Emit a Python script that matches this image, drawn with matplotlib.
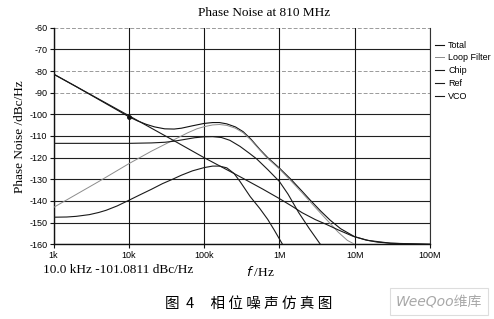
import matplotlib
matplotlib.use("Agg")
import matplotlib.pyplot as plt
from matplotlib.patches import FancyBboxPatch

plt.rcParams['axes.unicode_minus'] = False

# ---- data ----
total_f = [1e3, 1.5e3, 2e3, 3e3, 5e3, 7e3, 1e4, 1.3e4, 1.7e4, 2.2e4, 3e4, 4e4,
           5e4, 7e4, 1e5, 1.3e5, 1.6e5, 2e5, 2.6e5, 3.3e5, 4.2e5, 5.5e5, 7e5,
           1e6, 1.45e6, 2e6, 2.55e6, 3.5e6, 4.7e6, 6.5e6, 1e7, 1.4e7, 2e7,
           3e7, 5e7, 1e8]
total_db = [-81.4, -84.8, -87.2, -90.7, -95.1, -98.0, -101.1, -103.0, -104.6,
            -105.8, -106.7, -106.8, -106.4, -105.3, -104.2, -103.8, -103.8,
            -104.4, -105.8, -108.0, -111.5, -116.2, -120.0, -124.8, -130.3,
            -135.5, -139.5, -144.5, -148.8, -152.8, -156.5, -158.0, -159.0,
            -159.5, -159.8, -160.0]

lf_f = [1e3, 2e3, 4e3, 1e4, 2e4, 3e4, 4e4, 6e4, 8e4, 1e5, 1.3e5, 1.6e5, 2e5,
        2.6e5, 3.3e5, 4.2e5, 5.5e5, 7e5, 1e6, 1.45e6, 2e6, 2.55e6, 3.5e6,
        4.5e6, 6e6, 8e6, 1e7]
lf_db = [-143.0, -137.0, -131.0, -122.8, -117.0, -113.9, -111.7, -108.6,
         -106.7, -105.7, -104.9, -104.7, -105.1, -106.4, -108.5, -111.9,
         -116.5, -120.4, -125.2, -131.0, -136.2, -140.3, -145.5, -149.6,
         -154.3, -158.2, -160.0]

chip_f = [1e3, 1e4, 2e4, 3e4, 4e4, 5.5e4, 7.5e4, 1e5, 1.3e5, 1.7e5, 2.2e5,
          3e5, 4e5, 5e5, 7e5, 1e6, 1.3e6, 1.8e6, 2.5e6, 3.5e6]
chip_db = [-113.4, -113.4, -113.2, -112.9, -112.4, -111.6, -110.8, -110.4,
           -110.3, -110.7, -112.0, -114.8, -118.0, -120.6, -125.5, -131.0,
           -136.8, -145.3, -152.8, -160.0]

ref_f = [1e3, 1.5e3, 2e3, 3e3, 4e3, 5e3, 7e3, 1e4, 1.4e4, 2e4, 2.8e4, 3.8e4,
         5e4, 7e4, 1e5, 1.3e5, 1.6e5, 2e5, 2.5e5, 3e5, 4.1e5, 5.5e5, 7e5,
         8.5e5, 1.1e6]
ref_db = [-147.5, -147.4, -147.1, -146.3, -145.3, -144.3, -142.3, -139.7,
          -137.2, -134.6, -132.0, -130.0, -128.1, -126.1, -124.6, -123.9,
          -123.9, -124.7, -127.3, -131.0, -138.0, -143.5, -148.5, -153.3,
          -160.0]

vco_f = [1e3, 1e4, 3.9e4, 1e5, 3e5, 6e5, 1e6, 1.5e6, 2e6, 3e6, 4.2e6, 6e6,
         9.5e6, 1.5e7, 3e7, 1e8]
vco_db = [-81.4, -100.6, -112.0, -120.0, -128.8, -134.5, -138.9, -142.6,
          -145.4, -148.6, -150.8, -153.3, -156.3, -158.2, -159.5, -160.0]

series_names = ["Total", "Loop Filter", "Chip", "Ref", "VCO"]
y_ticks = [-60, -70, -80, -90, -100, -110, -120, -130, -140, -150, -160]
x_ticks = [1e3, 1e4, 1e5, 1e6, 1e7, 1e8]
x_tick_labels = ["1k", "10k", "100k", "1M", "10M", "100M"]

# ---- figure ----
fig = plt.figure(figsize=(4.94, 3.19), dpi=100)
fig.patch.set_facecolor("white")
ax = fig.add_axes([0.1083, 0.2342, 0.7621, 0.6790])
ax.set_xscale("log")
ax.set_xlim(1e3, 1e8)
ax.set_ylim(-160, -60)

# grid lines
light = {-60, -80, -90}
for v in y_ticks:
    if v in light:
        ax.axhline(v, color="#9a9a9a", lw=0.7, ls=(0, (4, 2)), zorder=1)
    else:
        ax.axhline(v, color="#202020", lw=0.8, zorder=1)
for f in x_ticks:
    ax.axvline(f, color="#151515", lw=0.8, zorder=1)

styles = {
    "Total": dict(color="#111111", lw=0.8),
    "Loop Filter": dict(color="#8c8c8c", lw=0.7),
    "Chip": dict(color="#1a1a1a", lw=0.8),
    "Ref": dict(color="#1a1a1a", lw=0.8),
    "VCO": dict(color="#1a1a1a", lw=0.8),
}
data = {
    "Total": (total_f, total_db),
    "Loop Filter": (lf_f, lf_db),
    "Chip": (chip_f, chip_db),
    "Ref": (ref_f, ref_db),
    "VCO": (vco_f, vco_db),
}
for name in series_names:
    f, d = data[name]
    ax.plot(f, d, label=name, zorder=3, **styles[name])

# marker on total at 10 kHz
ax.plot([1e4], [-101.08], marker="o", ms=2.5, color="#111111", zorder=4)

ax.set_xticks(x_ticks)
ax.set_xticklabels(x_tick_labels)
ax.minorticks_off()
ax.set_yticks(y_ticks)
ax.set_yticklabels([str(v) for v in y_ticks])
ax.tick_params(axis="both", labelsize=6.5, length=3, width=0.8, color="#111111",
               pad=1.5)
for lab in ax.get_xticklabels() + ax.get_yticklabels():
    lab.set_family("Liberation Sans")

for s in ["left", "bottom"]:
    ax.spines[s].set_color("#111111")
    ax.spines[s].set_linewidth(1.0)
ax.spines["top"].set_visible(False)
ax.spines["right"].set_color("#333333")
ax.spines["right"].set_linewidth(0.8)

serif = "Liberation Serif"
fig.text(0.534, 0.958, "Phase Noise at 810 MHz", family=serif, fontsize=9.5,
         ha="center", va="center")
fig.text(0.041, 0.57, "Phase Noise /dBc/Hz", rotation=90, family=serif,
         fontsize=9.5, ha="center", va="center")
fig.text(0.528, 0.148, r"$f$ /Hz", family=serif, fontsize=9.5, ha="center",
         va="center")
fig.text(0.087, 0.155, "10.0 kHz -101.0811 dBc/Hz", family=serif, fontsize=9.5,
         ha="left", va="center")
fig.text(0.503, 0.046, "图  4     相 位 噪 声 仿 真 图",
         family=["Noto Sans CJK SC", "DejaVu Sans"], fontsize=10.5, ha="center",
         va="center")

leg = ax.legend(loc="upper left", bbox_to_anchor=(1.0, 0.965), frameon=False,
                handlelength=0.9, handletextpad=0.5, labelspacing=0.42,
                borderaxespad=0.2, prop={"family": "Liberation Sans", "size": 6.5})

# watermark box
box = FancyBboxPatch((0.789, 0.012), 0.198, 0.085, transform=fig.transFigure,
                     boxstyle="square,pad=0", facecolor="white",
                     edgecolor="#dddddd", lw=0.8)
fig.patches.append(box)
fig.text(0.888, 0.054, "WeeQoo维库", family=["DejaVu Sans", "Noto Sans CJK SC"],
         fontsize=10, style="italic", color="#a8a8a8", ha="center", va="center")

fig.savefig("out.png", dpi=100, facecolor="white")
